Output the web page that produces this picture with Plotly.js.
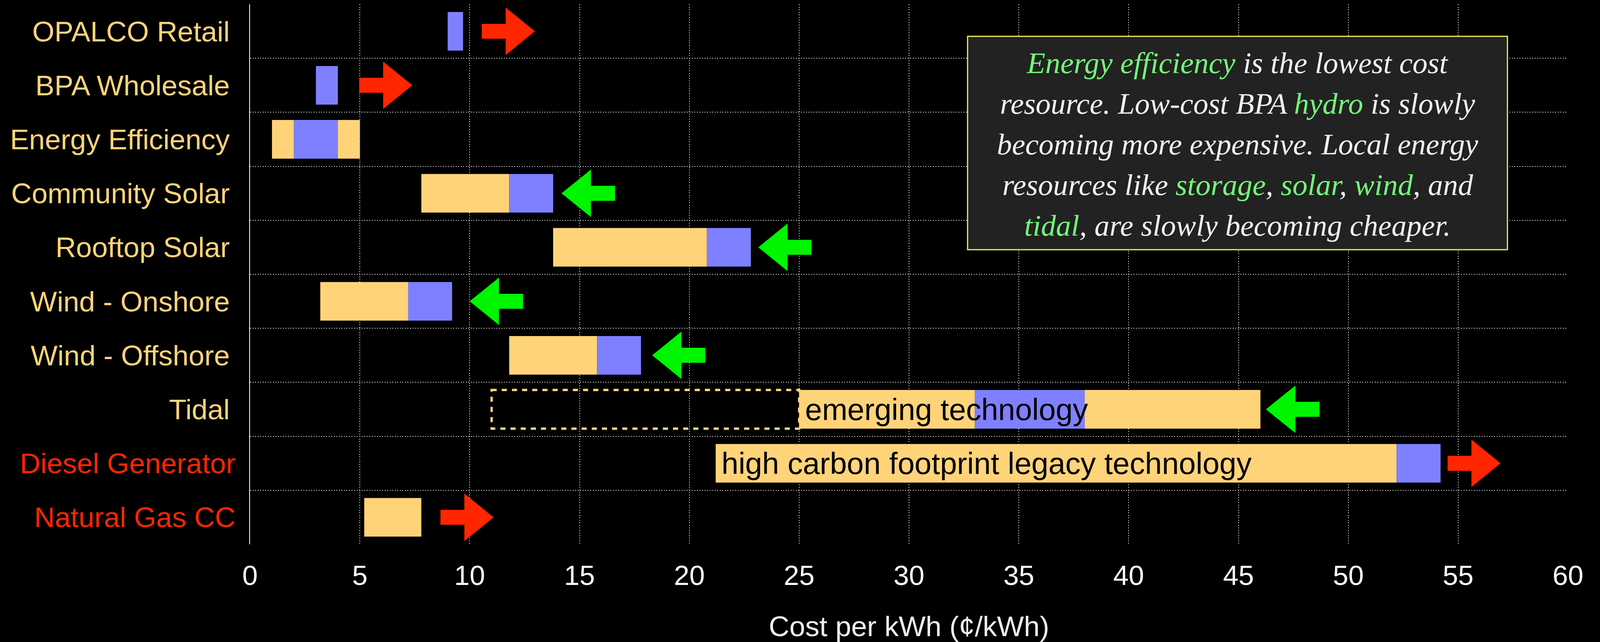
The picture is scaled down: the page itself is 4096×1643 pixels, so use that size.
<!DOCTYPE html>
<html>
<head>
<meta charset="utf-8">
<script src="https://cdn.plot.ly/plotly-3.0.1.min.js"></script>
<style>
html, body { margin: 0; padding: 0; background: #000; }
#chart { width: 4096px; height: 1643px; }
</style>
</head>
<body>
<div id="chart"></div>
<script>
// ---------------- data ----------------
const categories = ['OPALCO Retail', 'BPA Wholesale', 'Energy Efficiency', 'Community Solar', 'Rooftop Solar',
  'Wind - Onshore', 'Wind - Offshore', 'Tidal', 'Diesel Generator', 'Natural Gas CC'];
// cost range (yellow) and typical range (blue), cents per kWh
const rangeStart   = [null, null, 1.0, 7.8, 13.8, 3.2, 11.8, 25.0, 21.2, 5.2];
const typicalStart = [9.0, 3.0, 2.0, 11.8, 20.8, 7.2, 15.8, 33.0, 52.2, 7.8];
const typicalEnd   = [9.7, 4.0, 4.0, 13.8, 22.8, 9.2, 17.8, 38.0, 54.2, null];
const rangeEnd     = [null, null, 5.0, null, null, null, null, 46.0, null, null];
// possible future low end (dashed outline)
const potentialStart = [null, null, null, null, null, null, null, 11.0, null, null];
// price trend arrows: tail -> tip
const trendFrom = [10.55, 4.97, null, 16.62, 25.56, 12.43, 20.73, 48.69, 54.52, 8.67];
const trendTo   = [12.97, 7.39, null, 14.18, 23.14, 10.00, 18.31, 46.25, 56.93, 11.09];
const barNotes = [null, null, null, null, null, null, null, 'emerging technology', 'high carbon footprint legacy technology', null];
const xTickValues = [0, 5, 10, 15, 20, 25, 30, 35, 40, 45, 50, 55, 60];
const xTitle = 'Cost per kWh (¢/kWh)';
const summaryLines = [
  '[Energy efficiency] is the lowest cost',
  'resource. Low-cost BPA [hydro] is slowly',
  'becoming more expensive. Local energy',
  'resources like [storage], [solar], [wind], and',
  '[tidal], are slowly becoming cheaper.'
];

// ---------------- style ----------------
const YELLOW = '#FFD479';
const BLUE = '#7F80FF';
const RED = '#FF2600';
const GREEN = '#00F500';
const LIGHTGREEN = '#73FA79';
const legacyLabels = new Set(['Diesel Generator', 'Natural Gas CC']);
const BAR_W = 0.715;
const HEAD_H = 0.44, SHAFT_H = 0.139, HEAD_FRAC = 0.55;
const W = 4096, H = 1643;
const M = { l: 640, r: 82, t: 11, b: 250 };
const plotH = H - M.t - M.b, plotW = W - M.l - M.r;
const px2paperX = px => (px - M.l) / plotW;
const px2paperY = px => 1 - (px - M.t) / plotH;
// summary box geometry (pixels)
const BOX = { left: 2477, right: 3859, top: 93, bottom: 639 };
const LINE1_MID = 161, LINE_STEP = 104;

const idx = categories.map((_, i) => i);

function seg(starts, ends) {
  const base = [], len = [];
  idx.forEach(i => {
    if (starts[i] != null && ends[i] != null) { base.push(starts[i]); len.push(ends[i] - starts[i]); }
    else { base.push(null); len.push(null); }
  });
  return { base, len };
}
const low = seg(rangeStart, typicalStart);
const mid = seg(typicalStart, typicalEnd);
const high = seg(typicalEnd, rangeEnd);

function barTrace(s, color, name) {
  return {
    type: 'bar', orientation: 'h', y: idx, x: s.len, base: s.base, width: BAR_W,
    marker: { color: color, line: { width: 0 } }, name: name, hoverinfo: 'skip', showlegend: false
  };
}
const traces = [barTrace(low, YELLOW, 'range low'), barTrace(mid, BLUE, 'typical'), barTrace(high, YELLOW, 'range high')];

const shapes = [];
idx.forEach(i => {
  if (potentialStart[i] != null) {
    shapes.push({
      type: 'rect', xref: 'x', yref: 'y', layer: 'between',
      x0: potentialStart[i], x1: rangeStart[i], y0: i - BAR_W / 2, y1: i + BAR_W / 2,
      line: { color: YELLOW, width: 6, dash: '13px,13px' }, fillcolor: 'rgba(0,0,0,0)'
    });
  }
  if (trendFrom[i] != null) {
    const a = trendFrom[i], b = trendTo[i];
    const neck = b - (b - a) * HEAD_FRAC;
    const p = [[a, i - SHAFT_H], [neck, i - SHAFT_H], [neck, i - HEAD_H], [b, i], [neck, i + HEAD_H], [neck, i + SHAFT_H], [a, i + SHAFT_H]];
    shapes.push({
      type: 'path', xref: 'x', yref: 'y', layer: 'between',
      path: 'M' + p.map(q => q[0] + ',' + q[1]).join(' L') + ' Z',
      fillcolor: b > a ? RED : GREEN, line: { width: 0 }
    });
  }
});
// summary box
shapes.push({
  type: 'rect', xref: 'paper', yref: 'paper', layer: 'above',
  x0: px2paperX(BOX.left), x1: px2paperX(BOX.right), y0: px2paperY(BOX.bottom), y1: px2paperY(BOX.top),
  fillcolor: '#222222', line: { color: '#F2EE62', width: 3 }
});

const annotations = [];
idx.forEach(i => {
  if (barNotes[i]) {
    annotations.push({
      xref: 'x', yref: 'y', x: rangeStart[i], y: i, xanchor: 'left', yanchor: 'middle', xshift: 13,
      text: barNotes[i], showarrow: false,
      font: { family: 'Liberation Sans, Arial, sans-serif', size: 78, color: '#000000' }
    });
  }
});
summaryLines.forEach((line, k) => {
  annotations.push({
    xref: 'paper', yref: 'paper', x: px2paperX((BOX.left + BOX.right) / 2), y: px2paperY(LINE1_MID + k * LINE_STEP),
    xanchor: 'center', yanchor: 'middle', showarrow: false, borderpad: 0,
    text: '<i>' + line.replace(/\[([^\]]+)\]/g, '<span style="color:' + LIGHTGREEN + '">$1</span>') + '</i>',
    font: { family: 'Liberation Serif, Times New Roman, serif', size: 77, color: '#F0F0F0' }
  });
});

const yTickText = categories.map(c => legacyLabels.has(c)
  ? '<span style="color:' + RED + '">' + c + '</span>'
  : '<span style="color:' + YELLOW + '">' + c + '\u2009</span>');

const layout = {
  width: W, height: H,
  margin: { l: M.l, r: M.r, t: M.t, b: M.b, pad: 0 },
  paper_bgcolor: '#000000', plot_bgcolor: '#000000',
  barmode: 'overlay', showlegend: false,
  font: { family: 'Liberation Sans, Arial, sans-serif', color: '#FFFFFF' },
  xaxis: {
    range: [0, 60], tickvals: xTickValues, ticktext: xTickValues.map(String),
    showgrid: true, gridcolor: '#FFFFFF', gridwidth: 2, griddash: '2px,4.5px',
    zeroline: false, showline: false, ticks: '', ticklabelstandoff: 32,
    tickfont: { size: 71, color: '#FFFFFF' },
    title: { text: xTitle, font: { size: 73, color: '#EEEEEE' }, standoff: 68 },
    fixedrange: true
  },
  yaxis: {
    range: [9.5, -0.5], tickvals: idx, ticktext: yTickText,
    showgrid: false, zeroline: false, showline: true, linecolor: '#FFFFFF', linewidth: 2.5,
    ticks: '', ticklabelstandoff: 20,
    tickfont: { size: 73, color: YELLOW },
    minor: { tick0: 0.5, dtick: 1, showgrid: true, gridcolor: '#FFFFFF', gridwidth: 2, griddash: '2px,4.5px', ticks: '' },
    fixedrange: true
  },
  shapes: shapes,
  annotations: annotations
};

Plotly.newPlot('chart', traces, layout, { displayModeBar: false, staticPlot: true });
</script>
</body>
</html>
